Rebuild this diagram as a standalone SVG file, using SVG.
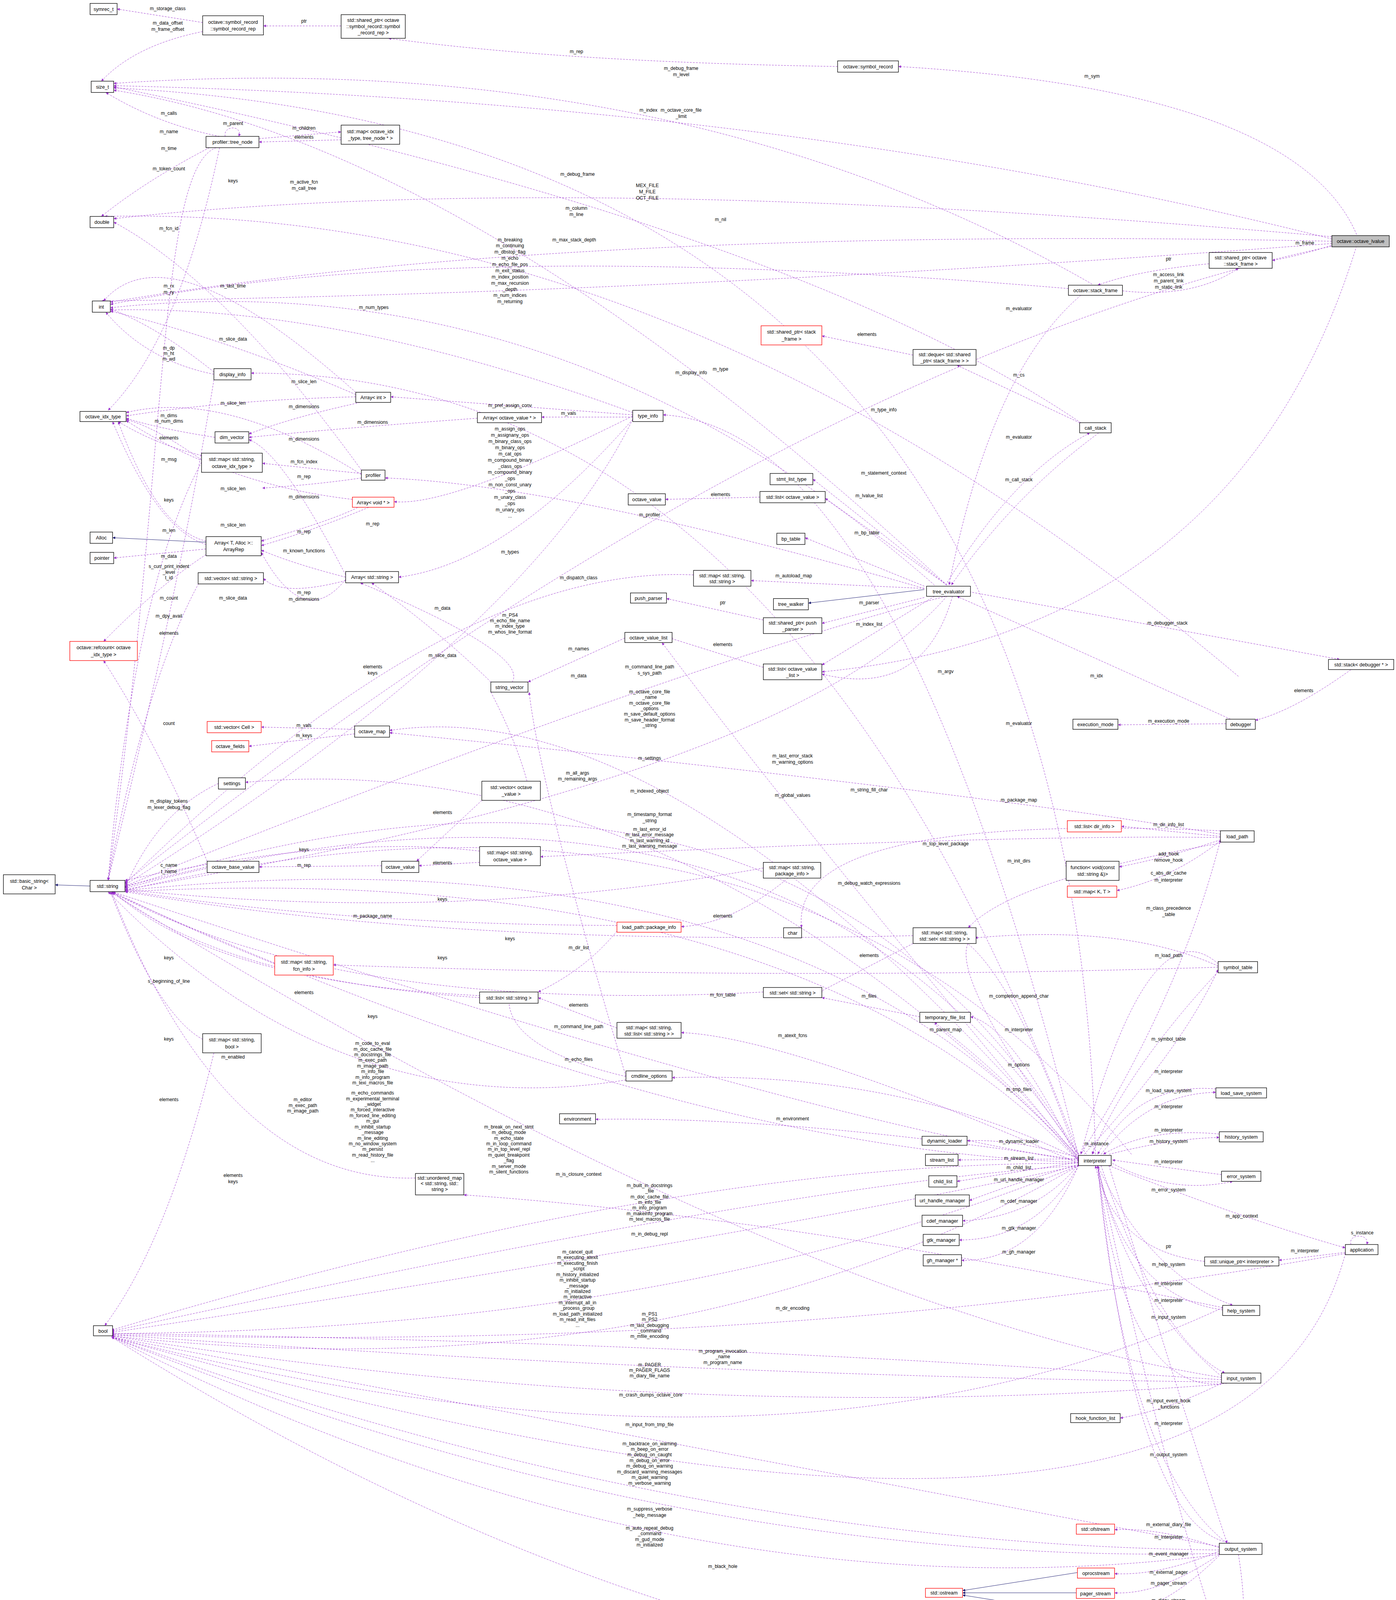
<svg xmlns="http://www.w3.org/2000/svg" width="3573" height="4525" viewBox="0 0 3573 4525">
<style>
.n rect{fill:#fff;stroke:#000;stroke-width:0.45}
.n.r rect{stroke:#f00}
.n.h rect{fill:#bfbfbf}
text{font-family:"Liberation Sans",Arial,sans-serif;font-size:4.4px;fill:#000;text-anchor:middle}
.e{fill:none;stroke:#9a32cd;stroke-width:0.33;stroke-dasharray:1.6 1.1;marker-end:url(#ap)}
.s{fill:none;stroke:#191970;stroke-width:0.33;marker-end:url(#an)}
.l text{font-size:4.2px}
</style>
<defs>
<marker id="ap" viewBox="0 0 10 10" refX="10" refY="5" markerWidth="9" markerHeight="7" orient="auto" markerUnits="strokeWidth"><path d="M0,0L10,5L0,10z" fill="#9a32cd"/></marker>
<marker id="an" viewBox="0 0 10 10" refX="10" refY="5" markerWidth="9" markerHeight="7" orient="auto" markerUnits="strokeWidth"><path d="M0,0L10,5L0,10z" fill="#191970"/></marker>
</defs>
<rect width="3573" height="4525" fill="#fff"/>
<g transform="scale(2.8815,2.8858)">
<g id="connectors">
<path class="e" d="M180,20 L104,8"/>
<path class="e" d="M180,28 Q120,40 90,72"/>
<path class="e" d="M303,23 L234,23"/>
<path class="e" d="M744,59 Q500,55 345,34"/>
<path class="e" d="M1205,208 Q1150,80 798,59"/>
<path class="e" d="M970,252 Q600,40 101,74"/>
<path class="e" d="M1183,212 Q700,90 101,76"/>
<path class="e" d="M973,1024 Q950,120 101,78"/>
<path class="e" d="M841,519 Q420,130 101,80"/>
<path class="e" d="M195,121 Q140,110 94,82"/>
<path class="e" d="M200,121 C198,111 216,111 212,121"/>
<path class="e" d="M230,123 L303,117"/>
<path class="e" d="M303,124 L230,126"/>
<path class="e" d="M192,131 C140,150 150,400 96,781"/>
<path class="e" d="M186,131 Q130,160 90,192"/>
<path class="e" d="M1100,600 Q600,180 93,192"/>
<path class="e" d="M316,348 Q150,200 92,267"/>
<path class="e" d="M195,131 Q160,300 96,364"/>
<path class="e" d="M1183,210 Q500,150 101,194"/>
<path class="e" d="M1183,214 Q500,200 98,268"/>
<path class="e" d="M949,256 Q400,210 98,270"/>
<path class="e" d="M1183,216 Q600,260 90,267"/>
<path class="e" d="M1185,217 Q1150,228 1130,231"/>
<path class="e" d="M1074,234 Q1010,240 975,253"/>
<path class="e" d="M997,258 Q1060,265 1100,238"/>
<path class="e" d="M960,375 Q700,200 101,77"/>
<path class="e" d="M830,519 Q500,230 98,273"/>
<path class="e" d="M190,330 Q140,290 98,274"/>
<path class="e" d="M321,417 Q200,250 101,197"/>
<path class="e" d="M562,366 Q300,270 98,275"/>
<path class="e" d="M316,350 Q200,300 98,276"/>
<path class="e" d="M190,332 Q130,320 94,277"/>
<path class="e" d="M958,1024 Q700,330 223,331"/>
<path class="e" d="M811,315 L730,298"/>
<path class="e" d="M959,375 L850,324"/>
<path class="e" d="M316,352 Q200,355 112,369"/>
<path class="e" d="M321,421 Q200,345 112,366"/>
<path class="e" d="M191,388 Q140,380 112,371"/>
<path class="e" d="M562,368 L347,352"/>
<path class="e" d="M562,370 L481,370"/>
<path class="e" d="M958,1026 Q800,380 589,368"/>
<path class="e" d="M1185,218 Q700,320 111,783"/>
<path class="e" d="M960,262 Q880,330 843,519"/>
<path class="e" d="M320,357 Q260,370 221,385"/>
<path class="e" d="M424,371 Q300,380 221,388"/>
<path class="e" d="M307,510 Q250,400 221,390"/>
<path class="e" d="M179,408 Q140,380 112,372"/>
<path class="e" d="M321,424 Q280,430 233,433"/>
<path class="e" d="M321,420 L233,411"/>
<path class="e" d="M179,404 Q140,395 105,374"/>
<path class="e" d="M179,410 Q120,520 96,781"/>
<path class="e" d="M562,369 Q400,450 350,445"/>
<path class="e" d="M841,519 L722,425"/>
<path class="e" d="M675,441 L591,443"/>
<path class="e" d="M841,519 L733,442"/>
<path class="e" d="M320,449 Q300,460 232,480"/>
<path class="e" d="M976,384 Q900,440 845,519"/>
<path class="e" d="M840,519 Q900,420 968,384"/>
<path class="e" d="M821,522 Q500,430 342,424"/>
<path class="e" d="M313,443 Q200,430 112,373"/>
<path class="e" d="M330,449 Q280,470 232,484"/>
<path class="e" d="M562,372 Q450,500 354,512"/>
<path class="e" d="M821,520 L715,477"/>
<path class="e" d="M183,483 Q140,470 100,374"/>
<path class="e" d="M821,522 L667,515"/>
<path class="e" d="M183,480 Q140,470 105,374"/>
<path class="e" d="M183,487 L101,495"/>
<path class="e" d="M307,512 Q260,500 232,488"/>
<path class="e" d="M821,530 L730,553"/>
<path class="e" d="M678,550 L592,531"/>
<path class="e" d="M616,510 Q400,500 111,784"/>
<path class="e" d="M307,515 Q250,530 234,513"/>
<path class="e" d="M307,514 Q270,560 232,490"/>
<path class="e" d="M183,492 Q140,520 92,569"/>
<path class="e" d="M190,337 Q160,520 96,781"/>
<path class="e" d="M179,513 Q130,600 96,781"/>
<path class="e" d="M562,372 Q470,560 111,785"/>
<path class="e" d="M830,529 L730,590"/>
<path class="e" d="M678,592 L595,566"/>
<path class="e" d="M436,605 Q390,560 330,517"/>
<path class="e" d="M555,566 L469,605"/>
<path class="e" d="M840,529 Q600,590 111,786"/>
<path class="e" d="M455,605 Q470,580 320,517"/>
<path class="e" d="M1205,218 Q1100,560 730,596"/>
<path class="e" d="M846,529 Q820,620 730,598"/>
<path class="e" d="M861,525 L1190,585"/>
<path class="e" d="M1200,594 Q1150,630 1115,639"/>
<path class="e" d="M184,764 Q140,660 92,586"/>
<path class="e" d="M436,614 Q460,660 470,700"/>
<path class="e" d="M315,647 L232,645"/>
<path class="e" d="M315,651 L221,662"/>
<path class="e" d="M958,1024 Q700,600 111,787"/>
<path class="e" d="M958,1025 Q700,630 111,788"/>
<path class="e" d="M1089,642 L993,643"/>
<path class="e" d="M1093,638 Q920,560 850,529"/>
<path class="e" d="M958,1026 Q600,660 218,694"/>
<path class="e" d="M958,1027 Q600,610 346,648"/>
<path class="e" d="M556,955 Q480,700 470,614"/>
<path class="e" d="M1005,1024 Q700,650 111,790"/>
<path class="e" d="M841,529 Q700,690 111,789"/>
<path class="e" d="M958,1028 Q700,720 588,570"/>
<path class="e" d="M1084,737 Q700,720 712,823"/>
<path class="e" d="M1084,740 Q850,700 346,650"/>
<path class="e" d="M1084,742 L996,733"/>
<path class="e" d="M428,710 L370,764"/>
<path class="e" d="M194,695 Q140,720 111,788"/>
<path class="e" d="M958,1029 Q700,730 111,790"/>
<path class="e" d="M958,1030 Q700,760 111,791"/>
<path class="e" d="M1084,745 Q1040,760 994,769"/>
<path class="e" d="M1084,746 Q1040,780 992,790"/>
<path class="e" d="M1084,743 Q900,740 480,760"/>
<path class="e" d="M1084,748 Q900,780 860,823"/>
<path class="e" d="M426,755 Q300,740 111,781"/>
<path class="e" d="M339,768 L230,769"/>
<path class="e" d="M426,765 L372,768"/>
<path class="e" d="M184,769 L111,786"/>
<path class="e" d="M678,770 Q400,820 111,789"/>
<path class="e" d="M958,1024 Q830,850 866,830"/>
<path class="e" d="M1082,855 Q1020,800 960,1024"/>
<path class="e" d="M1082,857 Q1000,820 866,832"/>
<path class="e" d="M548,821 Q300,820 111,790"/>
<path class="e" d="M700,779 Q650,820 605,822"/>
<path class="e" d="M811,830 Q400,840 111,791"/>
<path class="e" d="M548,826 Q520,860 478,880"/>
<path class="e" d="M244,855 Q180,830 100,791"/>
<path class="e" d="M811,837 L728,880"/>
<path class="e" d="M960,1024 Q1050,880 1084,745"/>
<path class="e" d="M426,885 Q200,870 100,791"/>
<path class="e" d="M1082,858 Q700,870 296,856"/>
<path class="e" d="M478,885 Q200,880 99,790"/>
<path class="e" d="M817,902 L730,885"/>
<path class="e" d="M958,1030 Q900,860 850,830"/>
<path class="e" d="M678,880 Q300,900 99,791"/>
<path class="e" d="M958,1031 Q900,910 862,902"/>
<path class="e" d="M548,912 L478,885"/>
<path class="e" d="M958,1032 Q700,920 605,916"/>
<path class="e" d="M963,1024 Q1050,930 1082,860"/>
<path class="e" d="M1082,862 Q1000,950 970,1024"/>
<path class="e" d="M180,922 Q140,900 98,791"/>
<path class="e" d="M190,934 Q150,1100 93,1176"/>
<path class="e" d="M556,955 Q450,930 452,885"/>
<path class="e" d="M958,1030 Q700,990 100,791"/>
<path class="e" d="M958,1028 Q800,950 597,956"/>
<path class="e" d="M958,1030 Q900,960 830,907"/>
<path class="e" d="M1080,966 Q1010,960 975,1024"/>
<path class="e" d="M978,1024 Q1020,970 1080,969"/>
<path class="e" d="M556,958 Q300,1000 96,791"/>
<path class="e" d="M958,1031 Q600,1020 100,792"/>
<path class="e" d="M958,1029 Q700,990 529,993"/>
<path class="e" d="M958,1032 Q600,1030 99,1180"/>
<path class="e" d="M958,1027 Q900,1010 859,1012"/>
<path class="e" d="M1083,1006 Q1020,1000 980,1024"/>
<path class="e" d="M985,1024 Q1040,1010 1083,1009"/>
<path class="e" d="M1085,1042 Q1030,1035 988,1029"/>
<path class="e" d="M958,1028 L851,1029"/>
<path class="e" d="M958,1031 L850,1048"/>
<path class="e" d="M965,1024 C955,1012 978,1012 970,1024"/>
<path class="e" d="M958,1033 Q900,1050 861,1065"/>
<path class="e" d="M988,1032 Q1040,1060 1095,1048"/>
<path class="e" d="M958,1033 Q920,1080 855,1083"/>
<path class="e" d="M958,1034 Q920,1100 852,1100"/>
<path class="e" d="M958,1034 Q920,1120 854,1118"/>
<path class="e" d="M958,1034 Q700,1050 99,1181"/>
<path class="e" d="M985,1034 Q1100,1080 1195,1107"/>
<path class="e" d="M1200,1104 C1197,1094 1217,1094 1214,1104"/>
<path class="e" d="M1195,1111 L1136,1118"/>
<path class="e" d="M1070,1119 Q990,1110 973,1034"/>
<path class="e" d="M369,1045 Q200,1050 99,791"/>
<path class="e" d="M1086,1160 Q700,1080 412,1060"/>
<path class="e" d="M958,1034 Q650,1100 99,1182"/>
<path class="e" d="M975,1034 Q1020,1130 1095,1158"/>
<path class="e" d="M1086,1162 Q1000,1150 975,1034"/>
<path class="e" d="M1085,1221 Q1000,1150 975,1034"/>
<path class="e" d="M978,1034 Q1030,1190 1088,1218"/>
<path class="e" d="M1085,1222 Q700,1160 99,792"/>
<path class="e" d="M958,1034 Q600,1180 99,1183"/>
<path class="e" d="M1085,1224 Q600,1190 99,1183"/>
<path class="e" d="M1195,1112 Q700,1200 99,1184"/>
<path class="e" d="M1085,1226 Q600,1220 99,1184"/>
<path class="e" d="M958,1034 Q600,1240 99,1185"/>
<path class="e" d="M1085,1227 Q1040,1250 995,1258"/>
<path class="e" d="M1090,1227 Q1000,1240 975,1034"/>
<path class="e" d="M1085,1228 Q600,1265 99,1185"/>
<path class="e" d="M1083,1372 Q700,1300 99,1186"/>
<path class="e" d="M985,1034 Q1060,1280 1090,1369"/>
<path class="e" d="M1086,1160 Q700,1340 99,1186"/>
<path class="e" d="M1090,1369 Q1000,1300 975,1034"/>
<path class="e" d="M1083,1373 Q1030,1355 990,1357"/>
<path class="e" d="M1083,1375 Q600,1370 99,1186"/>
<path class="e" d="M1095,1369 Q1010,1360 975,1034"/>
<path class="e" d="M1100,1379 Q1110,1440 1100,1500"/>
<path class="e" d="M1083,1376 Q1030,1398 990,1396"/>
<path class="e" d="M1083,1378 Q600,1390 99,1186"/>
<path class="e" d="M1083,1379 Q1030,1415 990,1413"/>
<path class="e" d="M1083,1380 Q1030,1432 990,1430"/>
<path class="e" d="M1083,1379 Q600,1440 99,1186"/>
<path class="e" d="M1195,1112 Q1100,1470 99,1186"/>
<path class="e" d="M1082,1503 Q600,1500 99,1186"/>
<path class="e" d="M1082,1505 L985,1515"/>
<path class="e" d="M1082,1507 Q1040,1525 1000,1534"/>
<path class="e" d="M1090,1510 Q1040,1550 1004,1558"/>
<path class="e" d="M1100,1500 Q1050,1380 975,1034"/>
<path class="s" d="M183,481 L100,477"/>
<path class="s" d="M80,786 L49,785"/>
<path class="s" d="M821,523 L718,535"/>
<path class="s" d="M957,1395 L855,1411"/>
<path class="s" d="M956,1413 L855,1413"/>
<path class="s" d="M956,1431 L855,1415"/>
</g>
<g class="l">
<text x="149" y="9">m_storage_class</text>
<text x="149" y="22">m_data_offset</text><text x="149" y="27.5">m_frame_offset</text>
<text x="270" y="20">ptr</text>
<text x="512" y="47">m_rep</text>
<text x="970" y="69">m_sym</text>
<text x="605" y="62">m_debug_frame</text><text x="605" y="67.5">m_level</text>
<text x="576" y="99">m_index</text>
<text x="605" y="99">m_octave_core_file</text><text x="605" y="104.5">_limit</text>
<text x="513" y="156">m_debug_frame</text>
<text x="150" y="102">m_calls</text>
<text x="207" y="111">m_parent</text>
<text x="270" y="115">m_children</text>
<text x="270" y="123">elements</text>
<text x="150" y="118">m_name</text>
<text x="150" y="133">m_time</text>
<text x="150" y="151">m_token_count</text>
<text x="207" y="162">keys</text>
<text x="270" y="163">m_active_fcn</text><text x="270" y="168.5">m_call_tree</text>
<text x="575" y="166">MEX_FILE</text><text x="575" y="171.5">M_FILE</text><text x="575" y="177">OCT_FILE</text>
<text x="512" y="186">m_column</text><text x="512" y="191.5">m_line</text>
<text x="150" y="204">m_fcn_id</text>
<text x="640" y="196">m_nil</text>
<text x="1159" y="217">m_frame</text>
<text x="1038" y="231">ptr</text>
<text x="1038" y="245">m_access_link</text><text x="1038" y="250.5">m_parent_link</text><text x="1038" y="256">m_static_link</text>
<text x="510" y="214">m_max_stack_depth</text>
<text x="453" y="214">m_breaking</text><text x="453" y="219.5">m_continuing</text><text x="453" y="225">m_dbstop_flag</text><text x="453" y="230.5">m_echo</text><text x="453" y="236">m_echo_file_pos</text><text x="453" y="241.5">m_exit_status</text><text x="453" y="247">m_index_position</text><text x="453" y="252.5">m_max_recursion</text><text x="453" y="258">_depth</text><text x="453" y="263.5">m_num_indices</text><text x="453" y="269">m_returning</text>
<text x="150" y="255">m_rx</text><text x="150" y="260.5">m_ry</text>
<text x="207" y="255">m_last_time</text>
<text x="332" y="274">m_num_types</text>
<text x="207" y="302">m_slice_data</text>
<text x="150" y="310">m_dp</text><text x="150" y="315">m_ht</text><text x="150" y="320">m_wd</text>
<text x="614" y="332">m_display_info</text>
<text x="770" y="298">elements</text>
<text x="905" y="334">m_cs</text>
<text x="905" y="275">m_evaluator</text>
<text x="270" y="340">m_slice_len</text>
<text x="207" y="359">m_slice_len</text>
<text x="150" y="370">m_dims</text><text x="150" y="375">m_num_dims</text>
<text x="453" y="361">m_pref_assign_conv</text>
<text x="505" y="368">m_vals</text>
<text x="785" y="365">m_type_info</text>
<text x="640" y="329">m_type</text>
<text x="905" y="389">m_evaluator</text>
<text x="270" y="362">m_dimensions</text>
<text x="331" y="376">m_dimensions</text>
<text x="270" y="391">m_dimensions</text>
<text x="150" y="390">elements</text>
<text x="270" y="424">m_rep</text>
<text x="270" y="411">m_fcn_index</text>
<text x="150" y="409">m_msg</text>
<text x="150" y="445">keys</text>
<text x="453" y="382">m_assign_ops</text><text x="453" y="387.5">m_assignany_ops</text><text x="453" y="393">m_binary_class_ops</text><text x="453" y="398.5">m_binary_ops</text><text x="453" y="404">m_cat_ops</text><text x="453" y="409.5">m_compound_binary</text><text x="453" y="415">_class_ops</text><text x="453" y="420.5">m_compound_binary</text><text x="453" y="426">_ops</text><text x="453" y="431.5">m_non_const_unary</text><text x="453" y="437">_ops</text><text x="453" y="442.5">m_unary_class</text><text x="453" y="448">_ops</text><text x="453" y="453.5">m_unary_ops</text><text x="453" y="459">...</text>
<text x="785" y="421">m_statement_context</text>
<text x="640" y="440">elements</text>
<text x="772" y="441">m_lvalue_list</text>
<text x="331" y="466">m_rep</text>
<text x="270" y="442">m_dimensions</text>
<text x="905" y="427">m_call_stack</text>
<text x="577" y="458">m_profiler</text>
<text x="207" y="435">m_slice_len</text>
<text x="207" y="467">m_slice_len</text>
<text x="270" y="473">m_rep</text>
<text x="270" y="490">m_known_functions</text>
<text x="453" y="491">m_types</text>
<text x="770" y="474">m_bp_table</text>
<text x="150" y="504">s_curr_print_indent</text><text x="150" y="509">_level</text><text x="150" y="514">t_id</text>
<text x="150" y="472">m_len</text>
<text x="150" y="495">m_data</text>
<text x="270" y="527">m_rep</text>
<text x="705" y="512">m_autoload_map</text>
<text x="772" y="536">m_parser</text>
<text x="642" y="536">ptr</text>
<text x="514" y="514">m_dispatch_class</text>
<text x="207" y="532">m_slice_data</text>
<text x="270" y="533">m_dimensions</text>
<text x="150" y="532">m_count</text>
<text x="150" y="548">m_dpy_avail</text>
<text x="150" y="563">elements</text>
<text x="453" y="547">m_PS4</text><text x="453" y="552">m_echo_file_name</text><text x="453" y="557">m_index_type</text><text x="453" y="562">m_whos_line_format</text>
<text x="772" y="555">m_index_list</text>
<text x="642" y="573">elements</text>
<text x="393" y="541">m_data</text>
<text x="514" y="577">m_names</text>
<text x="331" y="593">elements</text><text x="331" y="598.5">keys</text>
<text x="393" y="583">m_slice_data</text>
<text x="974" y="601">m_idx</text>
<text x="840" y="597">m_argv</text>
<text x="1037" y="554">m_debugger_stack</text>
<text x="1158" y="614">elements</text>
<text x="150" y="643">count</text>
<text x="514" y="601">m_data</text>
<text x="270" y="645">m_vals</text>
<text x="270" y="654">m_keys</text>
<text x="577" y="593">m_command_line_path</text><text x="577" y="598.5">s_sys_path</text>
<text x="577" y="615">m_octave_core_file</text><text x="577" y="620">_name</text><text x="577" y="625">m_octave_core_file</text><text x="577" y="630">_options</text><text x="577" y="635">m_save_default_options</text><text x="577" y="640">m_save_header_format</text><text x="577" y="645">_string</text>
<text x="1038" y="641">m_execution_mode</text>
<text x="905" y="643">m_evaluator</text>
<text x="577" y="674">m_settings</text>
<text x="513" y="687">m_all_args</text><text x="513" y="692.5">m_remaining_args</text>
<text x="704" y="672">m_last_error_stack</text><text x="704" y="677.5">m_warning_options</text>
<text x="577" y="703">m_indexed_object</text>
<text x="704" y="707">m_global_values</text>
<text x="772" y="702">m_string_fill_char</text>
<text x="905" y="711">m_package_map</text>
<text x="1038" y="733">m_dir_info_list</text>
<text x="393" y="722">elements</text>
<text x="150" y="712">m_display_tokens</text><text x="150" y="717.5">m_lexer_debug_flag</text>
<text x="577" y="724">m_timestamp_format</text><text x="577" y="729.5">_string</text>
<text x="577" y="737">m_last_error_id</text><text x="577" y="742">m_last_error_message</text><text x="577" y="747">m_last_warning_id</text><text x="577" y="752">m_last_warning_message</text>
<text x="1038" y="759">add_hook</text><text x="1038" y="764.5">remove_hook</text>
<text x="1038" y="776">c_abs_dir_cache</text>
<text x="840" y="750">m_top_level_package</text>
<text x="905" y="765">m_init_dirs</text>
<text x="270" y="755">keys</text>
<text x="270" y="769">m_rep</text>
<text x="393" y="767">elements</text>
<text x="150" y="769">c_name</text><text x="150" y="774.5">t_name</text>
<text x="393" y="799">keys</text>
<text x="772" y="785">m_debug_watch_expressions</text>
<text x="1038" y="782">m_interpreter</text>
<text x="1038" y="807">m_class_precedence</text><text x="1038" y="812.5">_table</text>
<text x="331" y="814">m_package_name</text>
<text x="642" y="814">elements</text>
<text x="453" y="834">keys</text>
<text x="514" y="842">m_dir_list</text>
<text x="150" y="851">keys</text>
<text x="393" y="851">keys</text>
<text x="772" y="849">elements</text>
<text x="1038" y="849">m_load_path</text>
<text x="270" y="882">elements</text>
<text x="642" y="884">m_fcn_table</text>
<text x="150" y="872">s_beginning_of_line</text>
<text x="514" y="893">elements</text>
<text x="772" y="885">m_files</text>
<text x="905" y="885">m_completion_append_char</text>
<text x="331" y="903">keys</text>
<text x="840" y="915">m_parent_map</text>
<text x="514" y="912">m_command_line_path</text>
<text x="704" y="920">m_atexit_fcns</text>
<text x="905" y="915">m_interpreter</text>
<text x="1038" y="923">m_symbol_table</text>
<text x="150" y="923">keys</text>
<text x="207" y="939">m_enabled</text>
<text x="514" y="941">m_echo_files</text>
<text x="331" y="927">m_code_to_eval</text><text x="331" y="932">m_doc_cache_file</text><text x="331" y="937">m_docstrings_file</text><text x="331" y="942">m_exec_path</text><text x="331" y="947">m_image_path</text><text x="331" y="952">m_info_file</text><text x="331" y="957">m_info_program</text><text x="331" y="962">m_texi_macros_file</text>
<text x="905" y="946">m_options</text>
<text x="905" y="968">m_tmp_files</text>
<text x="1038" y="952">m_interpreter</text>
<text x="1038" y="969">m_load_save_system</text>
<text x="150" y="977">elements</text>
<text x="269" y="977">m_editor</text><text x="269" y="982">m_exec_path</text><text x="269" y="987">m_image_path</text>
<text x="331" y="971">m_echo_commands</text><text x="331" y="976">m_experimental_terminal</text><text x="331" y="981">_widget</text><text x="331" y="986">m_forced_interactive</text><text x="331" y="991">m_forced_line_editing</text><text x="331" y="996">m_gui</text><text x="331" y="1001">m_inhibit_startup</text><text x="331" y="1006">_message</text><text x="331" y="1011">m_line_editing</text><text x="331" y="1016">m_no_window_system</text><text x="331" y="1021">m_persist</text><text x="331" y="1026">m_read_history_file</text><text x="331" y="1031">...</text>
<text x="704" y="994">m_environment</text>
<text x="452" y="1001">m_break_on_next_stmt</text><text x="452" y="1006">m_debug_mode</text><text x="452" y="1011">m_echo_state</text><text x="452" y="1016">m_in_loop_command</text><text x="452" y="1021">m_in_top_level_repl</text><text x="452" y="1026">m_quiet_breakpoint</text><text x="452" y="1031">_flag</text><text x="452" y="1036">m_server_mode</text><text x="452" y="1041">m_silent_functions</text>
<text x="905" y="1014">m_dynamic_loader</text>
<text x="1038" y="983">m_interpreter</text>
<text x="1038" y="1004">m_interpreter</text>
<text x="1038" y="1014">m_history_system</text>
<text x="1038" y="1032">m_interpreter</text>
<text x="905" y="1029">m_stream_list</text>
<text x="905" y="1037">m_child_list</text>
<text x="974" y="1016">m_instance</text>
<text x="905" y="1048">m_url_handle_manager</text>
<text x="1038" y="1057">m_error_system</text>
<text x="905" y="1067">m_cdef_manager</text>
<text x="905" y="1091">m_gtk_manager</text>
<text x="905" y="1112">m_gh_manager</text>
<text x="514" y="1043">m_is_closure_context</text>
<text x="1103" y="1080">m_app_context</text>
<text x="1210" y="1095">s_instance</text>
<text x="1159" y="1111">m_interpreter</text>
<text x="1038" y="1107">ptr</text>
<text x="207" y="1044">elements</text><text x="207" y="1049.5">keys</text>
<text x="577" y="1053">m_built_in_docstrings</text><text x="577" y="1058">_file</text><text x="577" y="1063">m_doc_cache_file</text><text x="577" y="1068">m_info_file</text><text x="577" y="1073">m_info_program</text><text x="577" y="1078">m_makeinfo_program</text><text x="577" y="1083">m_texi_macros_file</text>
<text x="577" y="1096">m_in_debug_repl</text>
<text x="1038" y="1123">m_help_system</text>
<text x="1038" y="1140">m_interpreter</text>
<text x="1038" y="1155">m_interpreter</text>
<text x="1038" y="1170">m_input_system</text>
<text x="704" y="1162">m_dir_encoding</text>
<text x="513" y="1112">m_cancel_quit</text><text x="513" y="1117">m_executing_atexit</text><text x="513" y="1122">m_executing_finish</text><text x="513" y="1127">_script</text><text x="513" y="1132">m_history_initialized</text><text x="513" y="1137">m_inhibit_startup</text><text x="513" y="1142">_message</text><text x="513" y="1147">m_initialized</text><text x="513" y="1152">m_interactive</text><text x="513" y="1157">m_interrupt_all_in</text><text x="513" y="1162">_process_group</text><text x="513" y="1167">m_load_path_initialized</text><text x="513" y="1172">m_read_init_files</text><text x="513" y="1177">...</text>
<text x="577" y="1167">m_PS1</text><text x="577" y="1172">m_PS2</text><text x="577" y="1177">m_last_debugging</text><text x="577" y="1182">_command</text><text x="577" y="1187">m_mfile_encoding</text>
<text x="642" y="1200">m_program_invocation</text><text x="642" y="1205">_name</text><text x="642" y="1210">m_program_name</text>
<text x="577" y="1212">m_PAGER</text><text x="577" y="1217">m_PAGER_FLAGS</text><text x="577" y="1222">m_diary_file_name</text>
<text x="578" y="1239">m_crash_dumps_octave_core</text>
<text x="1038" y="1244">m_input_event_hook</text><text x="1038" y="1249.5">_functions</text>
<text x="1038" y="1264">m_interpreter</text>
<text x="577" y="1265">m_input_from_tmp_file</text>
<text x="577" y="1282">m_backtrace_on_warning</text><text x="577" y="1287">m_beep_on_error</text><text x="577" y="1292">m_debug_on_caught</text><text x="577" y="1297">m_debug_on_error</text><text x="577" y="1302">m_debug_on_warning</text><text x="577" y="1307">m_discard_warning_messages</text><text x="577" y="1312">m_quiet_warning</text><text x="577" y="1317">m_verbose_warning</text>
<text x="1038" y="1292">m_output_system</text>
<text x="577" y="1340">m_suppress_verbose</text><text x="577" y="1345.5">_help_message</text>
<text x="1038" y="1354">m_external_diary_file</text>
<text x="577" y="1357">m_auto_repeat_debug</text><text x="577" y="1362">_command</text><text x="577" y="1367">m_gud_mode</text><text x="577" y="1372">m_initialized</text>
<text x="1038" y="1365">m_interpreter</text>
<text x="1038" y="1380">m_event_manager</text>
<text x="1038" y="1396">m_external_pager</text>
<text x="642" y="1391">m_black_hole</text>
<text x="1038" y="1406">m_pager_stream</text>
<text x="1038" y="1421">m_diary_stream</text>
<text x="577" y="1423">m_flushing_output_to</text><text x="577" y="1428">_pager</text><text x="577" y="1433">m_page_output_immediately</text><text x="577" y="1438">m_page_screen_output</text><text x="577" y="1443">m_really_flush_to_pager</text><text x="577" y="1448">m_write_to_diary_file</text>
<text x="641" y="1458">m_have_eval_option</text><text x="641" y="1463">_code</text><text x="641" y="1468">m_have_script_file</text><text x="641" y="1473">m_is_octave_program</text>
<text x="577" y="1491">m_debugging</text><text x="577" y="1496.5">m_link_enabled</text>
<text x="1038" y="1508">m_event_queue_mutex</text>
<text x="1038" y="1517">m_gui_event_queue</text>
<text x="1038" y="1534">m_instance</text><text x="1038" y="1539.5">m_qt_event_handlers</text>
</g>
<g id="symrec_t" class="n"><rect x="80" y="3" width="24" height="10"/><text x="92" y="9.6">symrec_t</text></g>
<g id="symbol_record_rep" class="n"><rect x="180" y="14" width="54" height="17"/><text x="207" y="21">octave::symbol_record</text><text x="207" y="27">::symbol_record_rep</text></g>
<g id="sp_symrep" class="n"><rect x="303" y="13" width="57" height="21"/><text x="331.5" y="19.5">std::shared_ptr&lt; octave</text><text x="331.5" y="25">::symbol_record::symbol</text><text x="331.5" y="30.5">_record_rep &gt;</text></g>
<g id="symbol_record" class="n"><rect x="744" y="54" width="54" height="10"/><text x="771" y="60.6">octave::symbol_record</text></g>
<g id="size_t" class="n"><rect x="81" y="72" width="20" height="10"/><text x="91" y="78.6">size_t</text></g>
<g id="tree_node" class="n"><rect x="183" y="121" width="47" height="10"/><text x="206.5" y="127.6">profiler::tree_node</text></g>
<g id="map_tree_node" class="n"><rect x="303" y="111" width="52" height="17"/><text x="329" y="118">std::map&lt; octave_idx</text><text x="329" y="124">_type, tree_node * &gt;</text></g>
<g id="double" class="n"><rect x="80" y="192" width="21" height="10"/><text x="90.5" y="198.6">double</text></g>
<g id="int" class="n"><rect x="82" y="267" width="16" height="10"/><text x="90" y="273.6">int</text></g>
<g id="octave_lvalue" class="n h"><rect x="1183" y="209" width="51" height="10"/><text x="1208.5" y="215.6">octave::octave_lvalue</text></g>
<g id="sp_stack_frame" class="n"><rect x="1074" y="224" width="56" height="14"/><text x="1102" y="230">std::shared_ptr&lt; octave</text><text x="1102" y="235.5">::stack_frame &gt;</text></g>
<g id="stack_frame" class="n"><rect x="949" y="253" width="48" height="9"/><text x="973" y="259.2">octave::stack_frame</text></g>
<g id="sp_stack_frame2" class="n r"><rect x="676" y="289" width="54" height="17"/><text x="703" y="296">std::shared_ptr&lt; stack</text><text x="703" y="302">_frame &gt;</text></g>
<g id="deque" class="n"><rect x="811" y="310" width="56" height="14"/><text x="839" y="316">std::deque&lt; std::shared</text><text x="839" y="321.5">_ptr&lt; stack_frame &gt; &gt;</text></g>
<g id="display_info" class="n"><rect x="190" y="327" width="33" height="10"/><text x="206.5" y="333.6">display_info</text></g>
<g id="array_int" class="n"><rect x="316" y="348" width="31" height="9"/><text x="331.5" y="354.2">Array&lt; int &gt;</text></g>
<g id="octave_idx_type" class="n"><rect x="71" y="365" width="41" height="9"/><text x="91.5" y="371.2">octave_idx_type</text></g>
<g id="type_info" class="n"><rect x="562" y="364" width="27" height="10"/><text x="575.5" y="370.6">type_info</text></g>
<g id="array_ovp" class="n"><rect x="424" y="366" width="57" height="9"/><text x="452.5" y="372.2">Array&lt; octave_value * &gt;</text></g>
<g id="call_stack" class="n"><rect x="959" y="375" width="28" height="9"/><text x="973" y="381.2">call_stack</text></g>
<g id="dim_vector" class="n"><rect x="191" y="383" width="30" height="10"/><text x="206" y="389.6">dim_vector</text></g>
<g id="map_str_idx" class="n"><rect x="179" y="402" width="54" height="17"/><text x="206" y="409">std::map&lt; std::string,</text><text x="206" y="415">octave_idx_type &gt;</text></g>
<g id="profiler" class="n"><rect x="321" y="417" width="21" height="9"/><text x="331.5" y="423.2">profiler</text></g>
<g id="stmt_list_type" class="n"><rect x="684" y="420" width="38" height="10"/><text x="703" y="426.6">stmt_list_type</text></g>
<g id="array_voidp" class="n r"><rect x="313" y="441" width="37" height="9"/><text x="331.5" y="447.2">Array&lt; void * &gt;</text></g>
<g id="octave_value_a" class="n"><rect x="558" y="438" width="33" height="10"/><text x="574.5" y="444.6">octave_value</text></g>
<g id="list_ov" class="n"><rect x="675" y="436" width="58" height="10"/><text x="704" y="442.6">std::list&lt; octave_value &gt;</text></g>
<g id="Alloc" class="n"><rect x="80" y="472" width="20" height="10"/><text x="90" y="478.6">Alloc</text></g>
<g id="ArrayRep" class="n"><rect x="183" y="476" width="49" height="17"/><text x="207.5" y="483">Array&lt; T, Alloc &gt;::</text><text x="207.5" y="489">ArrayRep</text></g>
<g id="bp_table" class="n"><rect x="690" y="473" width="25" height="10"/><text x="702.5" y="479.6">bp_table</text></g>
<g id="pointer" class="n"><rect x="80" y="490" width="21" height="10"/><text x="90.5" y="496.6">pointer</text></g>
<g id="vector_string" class="n"><rect x="176" y="508" width="58" height="10"/><text x="205" y="514.6">std::vector&lt; std::string &gt;</text></g>
<g id="array_string" class="n"><rect x="307" y="507" width="47" height="10"/><text x="330.5" y="513.6">Array&lt; std::string &gt;</text></g>
<g id="map_str_str" class="n"><rect x="616" y="506" width="51" height="14"/><text x="641.5" y="512">std::map&lt; std::string,</text><text x="641.5" y="517.5">std::string &gt;</text></g>
<g id="tree_evaluator" class="n"><rect x="823" y="520" width="39" height="9"/><text x="842.5" y="526.2">tree_evaluator</text></g>
<g id="push_parser" class="n"><rect x="560" y="526" width="32" height="9"/><text x="576" y="532.2">push_parser</text></g>
<g id="tree_walker" class="n"><rect x="687" y="531" width="31" height="10"/><text x="702.5" y="537.6">tree_walker</text></g>
<g id="sp_push_parser" class="n"><rect x="678" y="548" width="52" height="14"/><text x="704" y="554">std::shared_ptr&lt; push</text><text x="704" y="559.5">_parser &gt;</text></g>
<g id="octave_value_list" class="n"><rect x="555" y="561" width="42" height="9"/><text x="576" y="567.2">octave_value_list</text></g>
<g id="refcount" class="n r"><rect x="62" y="569" width="60" height="17"/><text x="92" y="576">octave::refcount&lt; octave</text><text x="92" y="582">_idx_type &gt;</text></g>
<g id="stack_debugger" class="n"><rect x="1180" y="585" width="58" height="9"/><text x="1209" y="591.2">std::stack&lt; debugger * &gt;</text></g>
<g id="list_ovl" class="n"><rect x="678" y="589" width="52" height="14"/><text x="704" y="595">std::list&lt; octave_value</text><text x="704" y="600.5">_list &gt;</text></g>
<g id="string_vector" class="n"><rect x="436" y="605" width="33" height="9"/><text x="452.5" y="611.2">string_vector</text></g>
<g id="execution_mode" class="n"><rect x="953" y="638" width="40" height="9"/><text x="973" y="644.2">execution_mode</text></g>
<g id="debugger" class="n"><rect x="1089" y="638" width="26" height="9"/><text x="1102" y="644.2">debugger</text></g>
<g id="vector_cell" class="n r"><rect x="184" y="640" width="48" height="10"/><text x="208" y="646.6">std::vector&lt; Cell &gt;</text></g>
<g id="octave_map" class="n"><rect x="315" y="644" width="31" height="10"/><text x="330.5" y="650.6">octave_map</text></g>
<g id="octave_fields" class="n r"><rect x="188" y="657" width="33" height="10"/><text x="204.5" y="663.6">octave_fields</text></g>
<g id="settings" class="n"><rect x="194" y="690" width="24" height="10"/><text x="206" y="696.6">settings</text></g>
<g id="vector_ov" class="n"><rect x="428" y="693" width="52" height="17"/><text x="454" y="700">std::vector&lt; octave</text><text x="454" y="706">_value &gt;</text></g>
<g id="list_dir_info" class="n r"><rect x="948" y="728" width="48" height="10"/><text x="972" y="734.6">std::list&lt; dir_info &gt;</text></g>
<g id="load_path" class="n"><rect x="1084" y="737" width="30" height="10"/><text x="1099" y="743.6">load_path</text></g>
<g id="map_str_ov" class="n"><rect x="426" y="751" width="54" height="17"/><text x="453" y="758">std::map&lt; std::string,</text><text x="453" y="764">octave_value &gt;</text></g>
<g id="octave_base_value" class="n"><rect x="184" y="764" width="46" height="10"/><text x="207" y="770.6">octave_base_value</text></g>
<g id="octave_value" class="n"><rect x="339" y="764" width="33" height="10"/><text x="355.5" y="770.6">octave_value</text></g>
<g id="map_pkg" class="n"><rect x="678" y="765" width="51" height="14"/><text x="703.5" y="771">std::map&lt; std::string,</text><text x="703.5" y="776.5">package_info &gt;</text></g>
<g id="function_void" class="n"><rect x="947" y="764" width="47" height="17"/><text x="970.5" y="771">function&lt; void(const</text><text x="970.5" y="777">std::string &amp;)&gt;</text></g>
<g id="basic_string" class="n"><rect x="3" y="776" width="46" height="17"/><text x="26" y="783">std::basic_string&lt;</text><text x="26" y="789">Char &gt;</text></g>
<g id="std_string" class="n"><rect x="80" y="781" width="31" height="10"/><text x="95.5" y="787.6">std::string</text></g>
<g id="map_KT" class="n r"><rect x="948" y="786" width="44" height="10"/><text x="970" y="792.6">std::map&lt; K, T &gt;</text></g>
<g id="package_info" class="n r"><rect x="548" y="818" width="57" height="9"/><text x="576.5" y="824.2">load_path::package_info</text></g>
<g id="char" class="n"><rect x="696" y="823" width="16" height="9"/><text x="704" y="829.2">char</text></g>
<g id="map_str_set" class="n"><rect x="811" y="823" width="56" height="14"/><text x="839" y="829">std::map&lt; std::string,</text><text x="839" y="834.5">std::set&lt; std::string &gt; &gt;</text></g>
<g id="map_fcn_info" class="n r"><rect x="244" y="848" width="52" height="17"/><text x="270" y="855">std::map&lt; std::string,</text><text x="270" y="861">fcn_info &gt;</text></g>
<g id="symbol_table" class="n"><rect x="1082" y="853" width="35" height="10"/><text x="1099.5" y="859.6">symbol_table</text></g>
<g id="set_string" class="n"><rect x="678" y="876" width="52" height="9"/><text x="704" y="882.2">std::set&lt; std::string &gt;</text></g>
<g id="list_string" class="n"><rect x="426" y="880" width="52" height="10"/><text x="452" y="886.6">std::list&lt; std::string &gt;</text></g>
<g id="temporary_file_list" class="n"><rect x="817" y="898" width="45" height="9"/><text x="839.5" y="904.2">temporary_file_list</text></g>
<g id="map_str_list" class="n"><rect x="548" y="907" width="57" height="14"/><text x="576.5" y="913">std::map&lt; std::string,</text><text x="576.5" y="918.5">std::list&lt; std::string &gt; &gt;</text></g>
<g id="map_str_bool" class="n"><rect x="180" y="917" width="52" height="17"/><text x="206" y="924">std::map&lt; std::string,</text><text x="206" y="930">bool &gt;</text></g>
<g id="cmdline_options" class="n"><rect x="556" y="950" width="41" height="9"/><text x="576.5" y="956.2">cmdline_options</text></g>
<g id="load_save_system" class="n"><rect x="1080" y="965" width="45" height="9"/><text x="1102.5" y="971.2">load_save_system</text></g>
<g id="environment" class="n"><rect x="497" y="988" width="32" height="9"/><text x="513" y="994.2">environment</text></g>
<g id="history_system" class="n"><rect x="1083" y="1004" width="39" height="9"/><text x="1102.5" y="1010.2">history_system</text></g>
<g id="dynamic_loader" class="n"><rect x="819" y="1008" width="40" height="8"/><text x="839" y="1013.6">dynamic_loader</text></g>
<g id="interpreter" class="n"><rect x="958" y="1025" width="29" height="9"/><text x="972.5" y="1031.2">interpreter</text></g>
<g id="stream_list" class="n"><rect x="822" y="1024" width="29" height="10"/><text x="836.5" y="1030.6">stream_list</text></g>
<g id="unordered_map" class="n"><rect x="369" y="1041" width="43" height="19"/><text x="390.5" y="1046.5">std::unordered_map</text><text x="390.5" y="1051.5">&lt; std::string, std::</text><text x="390.5" y="1056.5">string &gt;</text></g>
<g id="error_system" class="n"><rect x="1085" y="1039" width="35" height="9"/><text x="1102.5" y="1045.2">error_system</text></g>
<g id="child_list" class="n"><rect x="825" y="1043" width="25" height="10"/><text x="837.5" y="1049.6">child_list</text></g>
<g id="url_handle_manager" class="n"><rect x="813" y="1060" width="48" height="10"/><text x="837" y="1066.6">url_handle_manager</text></g>
<g id="cdef_manager" class="n"><rect x="819" y="1078" width="36" height="10"/><text x="837" y="1084.6">cdef_manager</text></g>
<g id="gtk_manager" class="n"><rect x="820" y="1095" width="32" height="10"/><text x="836" y="1101.6">gtk_manager</text></g>
<g id="application" class="n"><rect x="1195" y="1104" width="29" height="9"/><text x="1209.5" y="1110.2">application</text></g>
<g id="unique_ptr" class="n"><rect x="1070" y="1115" width="66" height="8"/><text x="1103" y="1120.6">std::unique_ptr&lt; interpreter &gt;</text></g>
<g id="gh_manager" class="n"><rect x="820" y="1113" width="34" height="10"/><text x="837" y="1119.6">gh_manager *</text></g>
<g id="bool" class="n"><rect x="83" y="1176" width="17" height="9"/><text x="91.5" y="1182.2">bool</text></g>
<g id="help_system" class="n"><rect x="1086" y="1158" width="33" height="9"/><text x="1102.5" y="1164.2">help_system</text></g>
<g id="input_system" class="n"><rect x="1085" y="1218" width="35" height="9"/><text x="1102.5" y="1224.2">input_system</text></g>
<g id="hook_function_list" class="n"><rect x="951" y="1254" width="44" height="8"/><text x="973" y="1259.6">hook_function_list</text></g>
<g id="ofstream" class="n r"><rect x="956" y="1352" width="34" height="9"/><text x="973" y="1358.2">std::ofstream</text></g>
<g id="output_system" class="n"><rect x="1083" y="1369" width="38" height="10"/><text x="1102" y="1375.6">output_system</text></g>
<g id="oprocstream" class="n r"><rect x="957" y="1391" width="33" height="9"/><text x="973.5" y="1397.2">oprocstream</text></g>
<g id="ostream" class="n r"><rect x="822" y="1409" width="33" height="8"/><text x="838.5" y="1414.6">std::ostream</text></g>
<g id="pager_stream" class="n r"><rect x="956" y="1409" width="34" height="9"/><text x="973" y="1415.2">pager_stream</text></g>
<g id="diary_stream" class="n r"><rect x="956" y="1426" width="34" height="9"/><text x="973" y="1432.2">diary_stream</text></g>
<g id="event_manager" class="n"><rect x="1082" y="1500" width="40" height="10"/><text x="1102" y="1506.6">event_manager</text></g>
<g id="mutex" class="n"><rect x="961" y="1511" width="24" height="9"/><text x="973" y="1517.2">mutex *</text></g>
<g id="stack_event_queue" class="n r"><rect x="945" y="1529" width="55" height="14"/><text x="972.5" y="1535">std::stack&lt; std::shared</text><text x="972.5" y="1540.5">_ptr&lt; event_queue &gt; &gt;</text></g>
<g id="sp_interpreter_events" class="n r"><rect x="942" y="1552" width="62" height="14"/><text x="973" y="1558">std::shared_ptr&lt; interpreter</text><text x="973" y="1563.5">_events &gt;</text></g>
</g>
</svg>
